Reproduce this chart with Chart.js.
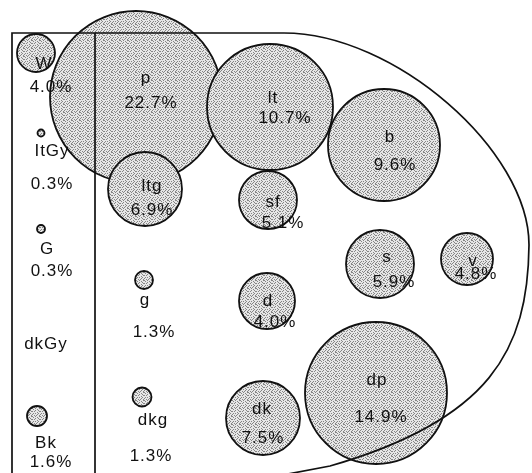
<!DOCTYPE html>
<html>
<head>
<meta charset="utf-8">
<script src="https://cdn.jsdelivr.net/npm/chart.js@4.4.1/dist/chart.umd.min.js"></script>
<style>
  body { margin: 0; background: #fff; }
  #wrap { width: 532px; height: 473px; position: relative; }
</style>
</head>
<body>
<div id="wrap"><canvas id="toneChart"></canvas></div>
<script>
// tone categories and share (%)
const tones = ["W", "ltGy", "G", "dkGy", "Bk", "p", "ltg", "g", "dkg", "lt", "sf", "d", "dk", "b", "s", "dp", "v"];
const shares = ["4.0%", "0.3%", "0.3%", "", "1.6%", "22.7%", "6.9%", "1.3%", "1.3%", "10.7%", "5.1%", "4.0%", "7.5%", "9.6%", "5.9%", "14.9%", "4.8%"];
const tagNames = ["W", "ItGy", "G", "dkGy", "Bk", "p", "ltg", "g", "dkg", "lt", "sf", "d", "dk", "b", "s", "dp", "v"];

// bubble centres / radii (0 = no bubble)
const bubbleX = [36, 41, 41, 0, 37, 136, 145, 144, 142, 270, 268, 267, 263, 384, 380, 376, 467];
const bubbleY = [53, 133, 229, 0, 416, 97, 189, 280, 397, 107, 200, 301, 418, 145, 264, 393, 259];
const bubbleR = [19, 3.5, 4, 0, 10, 86, 37, 9, 9.5, 63, 29, 28, 37, 56, 34, 71, 26];

// label anchors
const nameX = [44, 52, 47, 46, 46, 146, 152, 145, 153, 273, 273, 268, 262, 390, 387, 377, 473];
const nameY = [64, 151, 249, 344, 443, 78, 186, 300, 420, 98, 202, 301, 409, 137, 257, 380, 261];
const pctX = [51, 52, 52, 0, 51, 151, 152, 154, 151, 285, 283, 275, 263, 395, 394, 381, 476];
const pctY = [87, 184, 271, 0, 462, 103, 210, 332, 456, 118, 223, 322, 438, 165, 282, 417, 274];

const ctx = document.getElementById("toneChart").getContext("2d");

// bubble controller without the extra padding it reserves for the radius
class FlatBubble extends Chart.BubbleController {
  getMaxOverflow() { return false; }
}
FlatBubble.id = "flatBubble";
FlatBubble.defaults = Chart.BubbleController.defaults;
FlatBubble.overrides = Chart.BubbleController.overrides;
Chart.register(FlatBubble);

// stipple fill like the scanned halftone
function makeStipple() {
  const c = document.createElement("canvas");
  c.width = 8; c.height = 8;
  const g = c.getContext("2d");
  g.fillStyle = "#e6e6e6";
  g.fillRect(0, 0, 8, 8);
  const rows = ["x..x...x", ".x...x..", "...x..x.", "x.x....x", ".....x..", ".x.x..x.", "x....x..", "..x.x..x"];
  g.fillStyle = "#858585";
  rows.forEach((r, y) => {
    for (let x = 0; x < 8; x++) if (r[x] === "x") g.fillRect(x, y, 1, 1);
  });
  return ctx.createPattern(c, "repeat");
}
const stipple = makeStipple();

const points = [];
tones.forEach((t, i) => {
  if (bubbleR[i] > 0) points.push({ x: bubbleX[i], y: bubbleY[i], r: bubbleR[i] });
});

// frame: box on the left, divider and the rounded outline on the right
const framePlugin = {
  id: "frame",
  afterDatasetsDraw(chart) {
    const xs = chart.scales.x, ys = chart.scales.y;
    const c = chart.ctx;
    const px = v => xs.getPixelForValue(v);
    const py = v => ys.getPixelForValue(v);
    c.save();
    c.strokeStyle = "#111";
    c.lineWidth = 1.7;
    c.beginPath();
    c.moveTo(px(12), py(480));
    c.lineTo(px(12), py(33));
    c.lineTo(px(284), py(33));
    c.bezierCurveTo(px(394), py(33), px(529), py(150), px(529), py(245));
    c.bezierCurveTo(px(528), py(350), px(490), py(420), px(330), py(466));
    c.lineTo(px(230), py(485));
    c.stroke();
    c.beginPath();
    c.moveTo(px(95), py(33));
    c.lineTo(px(95), py(480));
    c.stroke();
    c.restore();
  },
  afterDraw(chart) {
    const xs = chart.scales.x, ys = chart.scales.y;
    const c = chart.ctx;
    c.save();
    c.fillStyle = "#111";
    c.font = "17px 'Liberation Sans', Arial, sans-serif";
    c.letterSpacing = "1px";
    c.textAlign = "center";
    c.textBaseline = "middle";
    tagNames.forEach((n, i) => {
      c.fillText(n, xs.getPixelForValue(nameX[i]), ys.getPixelForValue(nameY[i]));
      if (shares[i]) c.fillText(shares[i], xs.getPixelForValue(pctX[i]), ys.getPixelForValue(pctY[i]));
    });
    c.restore();
  }
};

new Chart(ctx, {
  type: "flatBubble",
  data: {
    datasets: [{
      label: "tone",
      data: points,
      backgroundColor: stipple,
      borderColor: "#111",
      borderWidth: 1.8,
      hoverRadius: 0
    }]
  },
  options: {
    responsive: true,
    maintainAspectRatio: false,
    animation: false,
    layout: { padding: 0 },
    scales: {
      x: { type: "linear", min: 0, max: 532, display: false },
      y: { type: "linear", min: 0, max: 473, reverse: true, display: false }
    },
    plugins: {
      legend: { display: false },
      tooltip: { enabled: false }
    }
  },
  plugins: [framePlugin]
});
</script>
</body>
</html>
